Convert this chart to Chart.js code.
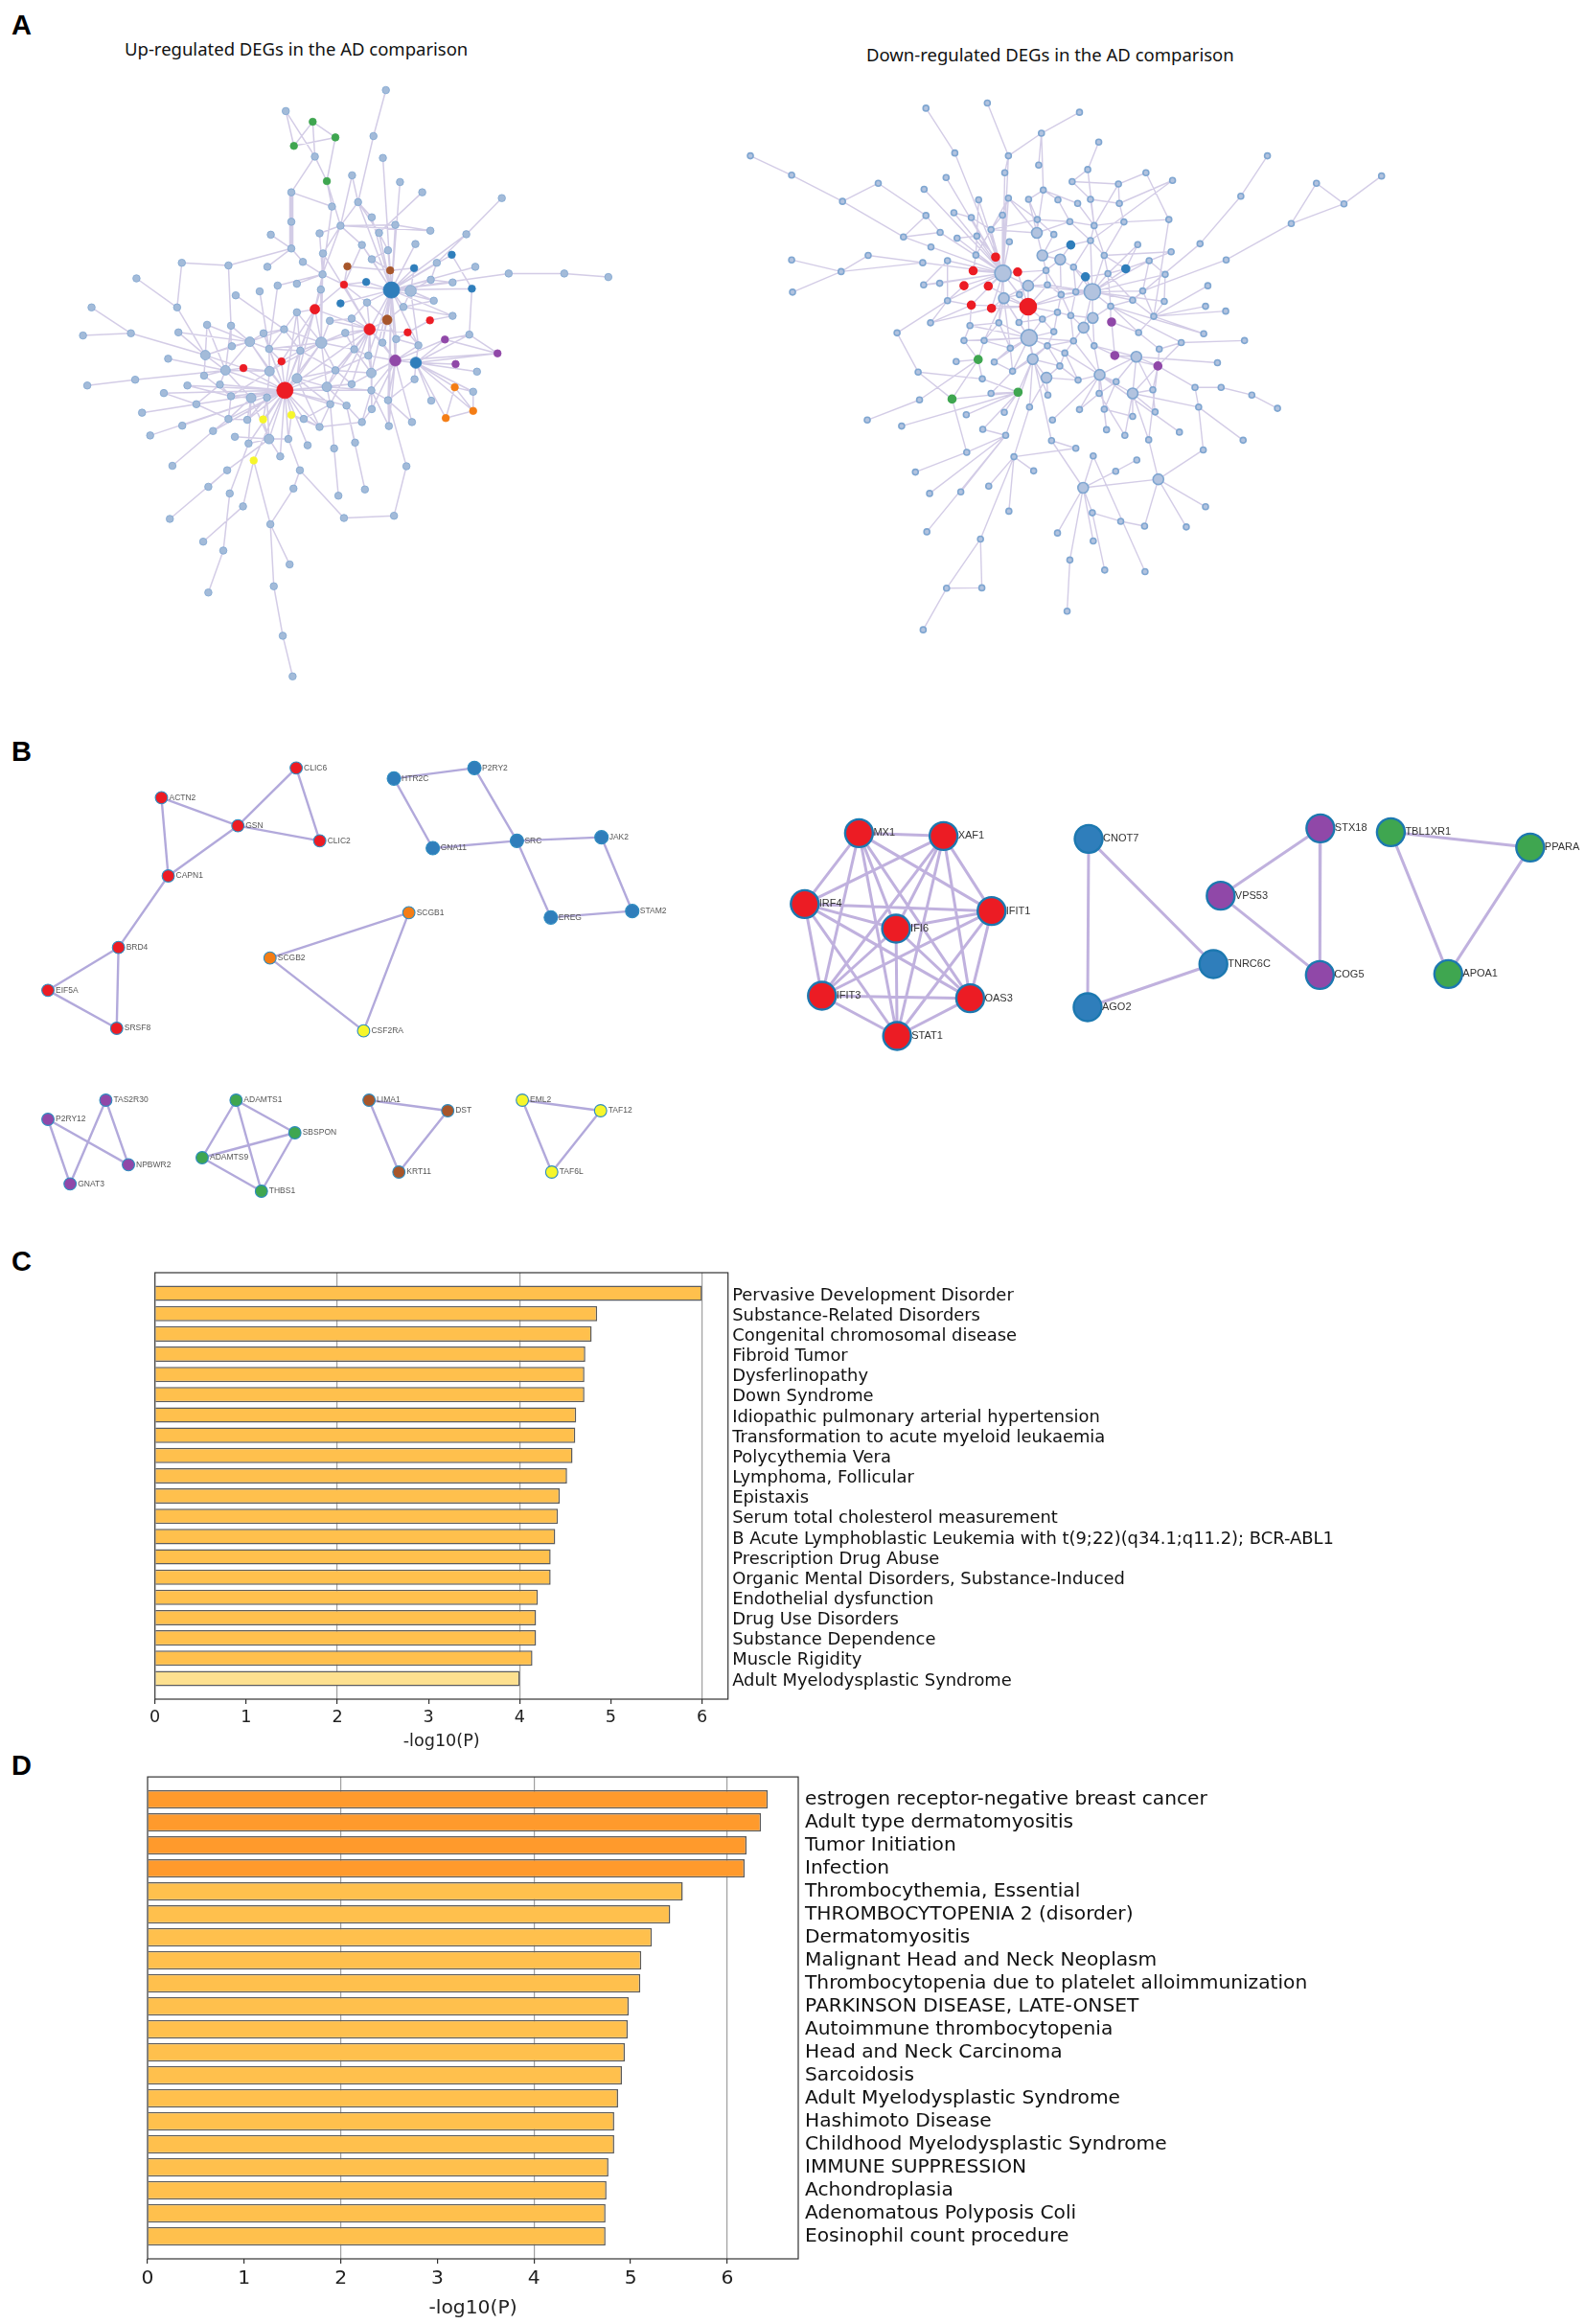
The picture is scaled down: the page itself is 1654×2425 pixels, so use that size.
<!DOCTYPE html>
<html>
<head>
<meta charset="utf-8">
<title>DEG networks and enrichment</title>
<script src="https://cdn.jsdelivr.net/npm/chart.js@4/dist/chart.umd.js"></script>
<style>
    html, body { margin: 0; background: #fff; }
    #page { position: relative; width: 1654px; height: 2425px; overflow: hidden; }
    #page canvas { position: absolute; }
    .panel { position: absolute; left: 12px; font: bold 29px "Liberation Sans", sans-serif; line-height: 1; color: #000; }
    .net-title { position: absolute; font: 18.5px "Noto Sans", sans-serif; line-height: 1; color: #111; white-space: nowrap; }
</style>
</head>
<body>
<div id="page">
    <div class="panel" style="top:12px">A</div>
    <div class="panel" style="top:770px">B</div>
    <div class="panel" style="top:1302px">C</div>
    <div class="panel" style="top:1828px">D</div>
    <div class="net-title" style="left:130px;top:42px">Up-regulated DEGs in the AD comparison</div>
    <div class="net-title" style="left:904px;top:48px">Down-regulated DEGs in the AD comparison</div>
    <canvas id="netUp" width="700" height="730" style="left:0;top:0"></canvas>
    <canvas id="netDown" width="750" height="660" style="left:740px;top:30px"></canvas>
    <canvas id="netLeft" width="740" height="510" style="left:0;top:760px"></canvas>
    <canvas id="netRight" width="854" height="300" style="left:800px;top:820px"></canvas>
    <canvas id="barsC" width="1400" height="525" style="left:100px;top:1310px"></canvas>
    <canvas id="barsD" width="1400" height="590" style="left:100px;top:1835px"></canvas>
</div>
<script>
(function () {
    'use strict';

    // panel C
    var cCategories = ['Pervasive Development Disorder', 'Substance-Related Disorders', 'Congenital chromosomal disease',
        'Fibroid Tumor', 'Dysferlinopathy', 'Down Syndrome', 'Idiopathic pulmonary arterial hypertension',
        'Transformation to acute myeloid leukaemia', 'Polycythemia Vera', 'Lymphoma, Follicular', 'Epistaxis',
        'Serum total cholesterol measurement', 'B Acute Lymphoblastic Leukemia with t(9;22)(q34.1;q11.2); BCR-ABL1',
        'Prescription Drug Abuse', 'Organic Mental Disorders, Substance-Induced', 'Endothelial dysfunction',
        'Drug Use Disorders', 'Substance Dependence', 'Muscle Rigidity', 'Adult Myelodysplastic Syndrome'];
    var cValues = [6.0, 4.85, 4.79, 4.72, 4.71, 4.71, 4.62, 4.61, 4.58, 4.52, 4.44, 4.42, 4.39, 4.34, 4.34, 4.20, 4.18, 4.18, 4.14, 4.0];

    // panel D
    var dCategories = ['estrogen receptor-negative breast cancer', 'Adult type dermatomyositis', 'Tumor Initiation', 'Infection',
        'Thrombocythemia, Essential', 'THROMBOCYTOPENIA 2 (disorder)', 'Dermatomyositis', 'Malignant Head and Neck Neoplasm',
        'Thrombocytopenia due to platelet alloimmunization', 'PARKINSON DISEASE, LATE-ONSET', 'Autoimmune thrombocytopenia',
        'Head and Neck Carcinoma', 'Sarcoidosis', 'Adult Myelodysplastic Syndrome', 'Hashimoto Disease',
        'Childhood Myelodysplastic Syndrome', 'IMMUNE SUPPRESSION', 'Achondroplasia', 'Adenomatous Polyposis Coli',
        'Eosinophil count procedure'];
    var dValues = [6.42, 6.35, 6.20, 6.18, 5.54, 5.41, 5.22, 5.11, 5.10, 4.98, 4.97, 4.94, 4.91, 4.87, 4.83, 4.83, 4.77, 4.75, 4.74, 4.74];

    // panel A, left network: layout position of each gene
    var upNodes = [[902,202],[668,249],[731,273],[784,308],[687,327],[873,305],[736,351],[895,354],[764,406],[823,393],
        [935,408],[987,431],[681,431],[1173,444],[837,453],[776,463],[869,487],[681,497],[796,506],[924,504],
        [1006,517],[633,526],[747,523],[886,522],[1090,525],[681,557],[846,549],[971,547],[907,561],[755,568],
        [1056,571],[869,581],[425,589],[534,595],[708,587],[1021,589],[625,598],[812,597],[912,606],[968,601],
        [1111,598],[754,615],[1189,613],[1319,613],[1422,621],[319,624],[1007,627],[804,638],[856,632],[694,636],
        [649,640],[1058,633],[1103,647],[915,650],[960,652],[750,649],[607,653],[551,662],[1014,674],[796,680],
        [858,678],[736,693],[414,689],[214,689],[943,688],[694,700],[1058,708],[822,714],[771,719],[905,717],
        [1005,718],[484,728],[540,730],[864,738],[664,738],[417,745],[306,747],[194,752],[616,747],[807,746],
        [953,745],[1097,750],[751,768],[584,766],[894,768],[926,760],[1040,761],[978,774],[542,776],[629,782],
        [828,783],[702,786],[1163,792],[480,796],[393,804],[861,797],[658,810],[924,808],[972,813],[1065,816],
        [569,825],[527,830],[630,832],[784,830],[1115,833],[868,836],[477,842],[694,848],[969,850],[316,851],
        [204,864],[514,862],[438,864],[764,867],[822,861],[1063,868],[666,875],[868,875],[383,881],[1106,878],
        [540,888],[587,892],[624,891],[907,897],[1008,898],[459,906],[772,906],[810,909],[1106,921],[332,925],
        [869,917],[681,930],[710,939],[615,940],[578,941],[534,939],[1042,937],[846,946],[963,946],[426,954],
        [747,957],[909,955],[498,966],[351,976],[549,979],[674,984],[629,984],[830,992],[581,994],[719,998],
        [781,1005],[593,1032],[655,1023],[403,1044],[950,1045],[531,1054],[701,1054],[686,1095],[853,1097],[487,1091],
        [537,1106],[791,1111],[568,1135],[397,1163],[804,1161],[921,1156],[632,1175],[475,1214],[522,1234],[677,1265],
        [640,1314],[487,1328],[661,1425],[684,1516]];
    var upLinks = [[116,[121,122,102,107,96,100,83,89,91,101,111,120,125,135,134,133,131,132,146,145,148,113,126,103,114,117,127,140,118,112,139,142,129,143,152,149,82,61,73,78,65,151]],
        [53,[54,64,69,73,38,39,28,31,26,60,47,48,59,35,46,51,40,42,58,66,19,23,10,7,14,16,27,24,30,52,97,84,85,87,95,105,123,141]],
        [73,[82,61,47,69,80,84,95,90,67,79,60,29,68,97,105,114,113,103,126]],
        [97,[98,86,84,85,87,105,123,141,130,117,95,92,114]],
        [98,[99,115,119,128,136,124,108,92,86,104,87,81]],
        [136,[128,115]], [128,[115,119]], [115,[119]],
        [82,[41,55,61,65,68,91,107,79,90,103,113,102,89,74]],
        [61,[47,41,55,91,65,107,96]],
        [41,[29,22,34,15,18,49,50,55,47]],
        [1,[4,6]], [2,[3,4,6]], [3,[4,8]], [6,[8,12]], [12,[15]], [25,[33,34]], [33,[32,72]], [32,[62]],
        [62,[45,93]], [63,[76]], [76,[77,93]], [109,[110,101]], [94,[101]], [75,[93,83]],
        [8,[15,18]], [14,[5,16,9,18,23]], [5,[0]], [18,[9,20,29,22,19]], [19,[20]], [11,[23]],
        [13,[24]], [24,[35]], [42,[43]], [43,[44]], [52,[81,30]], [81,[86,92]], [86,[92]],
        [154,[123,165]], [165,[164]], [164,[156]], [156,[145,157]], [150,[161,126]], [127,[158,147]],
        [142,[153,135]], [155,[163,146,159]], [160,[168,148]], [162,[167,151]], [168,[171]],
        [166,[151,157,169,170]], [170,[172]], [172,[173]], [152,[146]], [144,[146]],
        [101,[83,93,102,100,106,111,72,71]], [83,[71,72,88,89,102,93,78,74]], [102,[96,100,120]], [93,[71,88,100]],
        [57,[74]], [50,[89]], [21,[25]], [36,[25]], [56,[89]], [103,[105,95]], [113,[114,117]], [137,[117]], [138,[97]],
        [47,[48,60,37]], [60,[67,69]], [67,[68,90]], [69,[84,85,64]], [85,[87,80,70]], [80,[70,87]],
        [105,[90,117,95,130]], [117,[123,130,141]], [123,[138,141,108]], [107,[91,103,113,126,140]],
        [113,[103,114,126,127]], [121,[101,120,134,135,148,146]], [122,[102,134,133,146]], [146,[133,145,148,144,152]],
        [135,[120,134,142,125]], [125,[111,118,129]], [120,[106,111,112]], [106,[101,93]], [88,[83,93,72]],
        [74,[78,89,91]], [65,[74,91]], [29,[55]], [26,[31,18,47]], [28,[31,38,23]], [38,[37,39,31]],
        [46,[35,51,54]], [54,[39,64,58,87]], [64,[58,66]], [70,[66]], [131,[132,140,145]], [132,[140,126]],
        [140,[137,126]], [137,[130,127]], [90,[79,95,103]], [103,[114,91]], [91,[96,89]], [89,[96,78,102]]];
    var upThickLinks = [[12,[17]], [17,[25]]];
    var upClusters = { red: [47,61,70,73,80,96,100,116], blue: [30,39,48,52,53,59,98], green: [2,3,4,8],
        purple: [86,92,97,99], orange: [115,128,136], yellow: [131,133,151], brown: [37,38,69] };
    var upHub = [53,116], upBig = [73,82,54,97,98], upMid = [61,83,93,101,102,105,107,113,121,146,69];

    // panel A, right network
    var downNodes = [[90,315],[180,363],[369,383],[291,428],[424,516],[473,197],[607,184],[808,207],[725,259],[850,281],
        [536,308],[653,315],[719,338],[826,349],[645,357],[517,369],[953,357],[1011,376],[792,379],[893,385],
        [469,398],[729,400],[588,424],[653,420],[697,423],[761,424],[804,433],[832,423],[895,433],[473,463],
        [534,456],[572,468],[640,462],[716,473],[1003,473],[787,478],[840,488],[905,479],[1218,315],[1160,415],
        [1467,365],[1325,383],[1385,434],[1270,483],[504,505],[541,519],[615,498],[584,514],[715,506],[752,510],
        [655,528],[789,536],[832,525],[1071,533],[484,541],[935,535],[1008,553],[347,562],[582,561],[625,566],
        [727,562],[862,562],[960,575],[180,573],[466,580],[520,575],[766,572],[1128,573],[288,602],[576,600],
        [641,606],[673,603],[735,599],[795,591],[909,595],[870,607],[995,609],[821,615],[468,635],[503,631],
        [556,637],[609,638],[696,637],[738,635],[1088,637],[182,653],[836,652],[946,650],[643,668],[677,659],
        [768,659],[800,652],[520,674],[924,673],[993,676],[696,689],[572,685],[616,693],[876,688],[1083,688],
        [1127,700],[760,703],[789,711],[837,717],[970,713],[878,727],[483,729],[632,729],[727,720],[676,728],
        [569,736],[817,741],[752,751],[937,753],[410,754],[1079,756],[698,766],[556,773],[600,773],[795,774],
        [1030,778],[1168,773],[738,786],[657,792],[840,786],[982,794],[776,804],[885,810],[932,813],[706,819],
        [587,820],[539,825],[622,826],[979,836],[1109,828],[765,836],[456,851],[662,849],[852,858],[596,868],
        [736,865],[805,871],[888,875],[1060,889],[1117,889],[968,895],[924,904],[1184,908],[530,918],[674,901],
        [615,904],[739,908],[851,904],[459,920],[1240,941],[699,938],[808,944],[862,943],[1068,938],[973,950],
        [644,951],[561,957],[924,961],[749,970],[345,970],[420,985],[867,994],[597,993],[1026,1000],[907,1008],
        [647,1008],[747,1021],[959,1019],[1165,1020],[800,1040],[562,1050],[1078,1044],[665,1061],[838,1059],[933,1069],
        [450,1099],[708,1096],[887,1097],[980,1117],[816,1138],[610,1134],[481,1152],[549,1148],[654,1196],[1083,1185],
        [836,1200],[898,1221],[950,1233],[1041,1235],[475,1247],[760,1250],[592,1265],[838,1270],[787,1317],[863,1342],
        [951,1346],[518,1387],[595,1386],[781,1444],[467,1490]];
    var downLinks = [[0,[1]], [1,[3]], [3,[2,4]], [4,[70,29]], [2,[29]], [5,[10]], [10,[70]], [6,[11]], [11,[70,14,8]], [14,[70]],
        [7,[8]], [8,[21,12]], [9,[13]], [13,[18,36]], [15,[70]],
        [70,[59,69,71,80,81,88,82,89,95,47,46,22,31,30,44,45,54,64,65,58,57,79,78,92,32,96,97,107,20,72,50,23]],
        [95,[81,71,96,97,82,88,89,116,86,101,108,109,83,90]],
        [116,[88,107,109,112,122,129,137,123,118,132,108,119,126,117,110]],
        [86,[75,77,91,73,61,52,93,87,98,103,111,74,82,62,76,94,90,83]],
        [48,[33,24,21,46,60,72,35,23]],
        [129,[122,135,137,149,155,140]],
        [138,[141,142,152,157,156,146,128,124,119,126,163]],
        [146,[145,158,133,159,162,128,169]],
        [133,[127,128,120,143,125]], [143,[144,158]], [144,[147]], [147,[154]],
        [158,[176]], [176,[183]], [183,[184,189,193,172,192]], [172,[133,146]],
        [184,[190,195,198,197,182,171,178]], [182,[179]], [190,[191,199]], [191,[192]], [198,[203]], [178,[200]], [171,[116,174]],
        [175,[180,170,148]], [167,[170]], [170,[187,186,194,129]], [177,[174,188,196,181,155]], [196,[201,202]], [201,[202,204]],
        [164,[153]], [153,[130]], [165,[149]], [114,[92,136]], [136,[139]], [139,[130,149]], [148,[149,130]],
        [67,[87]], [43,[67,41,42]], [41,[42]], [42,[40]], [38,[39]], [39,[53]], [53,[93]], [16,[19]], [19,[18,28,36]],
        [17,[28,52]], [34,[16,104]], [56,[61]], [84,[104]], [99,[104]], [100,[104]], [115,[104,98]], [121,[120]], [120,[98]],
        [134,[128]], [55,[75]], [113,[105]], [105,[98,127]], [127,[128]],
        [60,[66,72,49]], [66,[90,73]], [137,[150,123]], [150,[149]], [151,[129]], [160,[149]], [161,[149]], [167,[149]],
        [185,[177]], [173,[158]], [168,[138]], [166,[138]], [148,[136]], [131,[130]], [117,[130]], [106,[92]], [65,[92]],
        [112,[122,101]], [124,[111]], [102,[111,101]], [26,[36]], [25,[35]], [27,[36]], [37,[61,36]], [51,[60,66]], [34,[37]],
        [88,[97,107,109,118,123,82,89]], [82,[89,83,72]], [83,[72,90]], [72,[90,66]], [73,[91,77,52]], [77,[75,91]],
        [91,[90,102]], [90,[101,102]], [101,[108,112]], [108,[109,112]], [102,[103,119]], [103,[98,111,124]],
        [111,[119]], [119,[126,122]], [126,[135,122,141]], [122,[135,137]], [135,[140,141]], [140,[151,155,141]],
        [137,[132]], [123,[118,132,107]], [107,[110,118]], [110,[117,96]], [118,[117,130]], [124,[127,128]],
        [128,[142,145]], [142,[152,157]], [152,[156,169]], [157,[162,166]], [145,[159,133]], [125,[120,113]],
        [113,[98,104]], [104,[94,87,93]], [93,[98,75,87]], [75,[98,74]], [74,[62,55]], [62,[56,76,87]], [76,[94]],
        [33,[35,46,49]], [35,[36,52]], [36,[52,61]], [52,[61,51]], [61,[75,74]], [24,[21,33]], [21,[25,26]],
        [23,[33,46]], [32,[46,23]], [22,[47]], [31,[30,46]], [46,[58,59]], [47,[58,59,45]], [58,[69]], [44,[4,29]],
        [65,[78]], [68,[63,85,64,57]], [64,[57]], [79,[78]], [92,[80,96]], [106,[96,97]], [37,[28]], [28,[27]], [27,[18]]];
    var downClusters = { red: [59,69,71,80,81,95,96,97], blue: [51,74,77], green: [130,148,149], purple: [105,127,133] };
    var downHub = [70,86,116,95], downMid = [48,60,66,82,88,103,111,128,129,138,140,146,183,184];

    // panel B, left group of modules
    var leftGenes = ['ACTN2','CLIC6','GSN','CLIC2','CAPN1','BRD4','EIF5A','SRSF8',
        'HTR2C','P2RY2','GNA11','SRC','JAK2','EREG','STAM2',
        'SCGB1','SCGB2','CSF2RA',
        'TAS2R30','P2RY12','NPBWR2','GNAT3',
        'ADAMTS1','SBSPON','ADAMTS9','THBS1',
        'LIMA1','DST','KRT11',
        'EML2','TAF12','TAF6L'];
    var leftNodes = [[357,217],[655,124],[526,305],[707,352],[372,462],[262,686],[106,820],[258,939],
        [871,157],[1049,124],[957,375],[1143,352],[1330,341],[1218,592],[1398,572],
        [904,577],[597,719],[804,947],
        [234,1164],[106,1224],[284,1366],[155,1426],
        [522,1164],[652,1266],[447,1344],[578,1449],
        [816,1164],[990,1197],[882,1389],
        [1155,1164],[1328,1197],[1220,1389]];
    var leftLinks = [[0,[2,4]], [2,[1,3,4]], [1,[3]], [4,[5]], [5,[6,7]], [6,[7]],
        [8,[9,10]], [9,[11]], [10,[11]], [11,[12,13]], [12,[14]], [13,[14]],
        [15,[16,17]], [16,[17]],
        [19,[20,21]], [18,[20,21]],
        [22,[23,24,25]], [23,[24,25]], [24,[25]],
        [26,[27,28]], [27,[28]], [29,[30,31]], [30,[31]]];
    var leftClusters = { red: [0,1,2,3,4,5,6,7], blue: [8,9,10,11,12,13,14], orange: [15,16], yellow: [17,29,30,31],
        purple: [18,19,20,21], green: [22,23,24,25], brown: [26,27,28] };

    // panel B, right group of modules
    var rightGenes = ['MX1','XAF1','IRF4','IFIT1','IFI6','IFIT3','OAS3','STAT1',
        'CNOT7','AGO2','TNRC6C','STX18','VPS53','COG5','TBL1XR1','PPARA','APOA1'];
    var rightNodes = [[177,148],[339,157],[73,370],[431,392],[248,447],[106,657],[390,665],[250,783],
        [617,166],[615,693],[856,558],[1061,133],[870,344],[1060,592],[1196,145],[1463,193],[1306,589]];
    var rightLinks = [[0,[1,2,3,4,5,6,7]], [1,[2,3,4,5,6,7]], [2,[3,4,5,6,7]], [3,[4,5,6,7]], [4,[5,6,7]], [5,[6,7]], [6,[7]],
        [8,[9,10]], [9,[10]], [11,[12,13]], [12,[13]], [14,[15,16]], [15,[16]]];
    var rightClusters = { red: [0,1,2,3,4,5,6,7], blue: [8,9,10], purple: [11,12,13], green: [14,15,16] };

    var clusterColors = { red: '#ec1c24', blue: '#2f7ebb', green: '#3fa650', purple: '#9048a8',
        orange: '#f47d15', yellow: '#f6f62b', brown: '#a7562a' };

    function linkPoints(nodes, links) {
        var pts = [];
        links.forEach(function (l) {
            l[1].forEach(function (b) {
                pts.push({ x: nodes[l[0]][0], y: nodes[l[0]][1] });
                pts.push({ x: nodes[b][0], y: nodes[b][1] });
                pts.push({ x: NaN, y: NaN });
            });
        });
        return pts;
    }

    function colorOf(clusters, i, fallback) {
        for (var k in clusters) {
            if (clusters[k].indexOf(i) >= 0) return clusterColors[k];
        }
        return fallback;
    }

    var geneLabels = {
        id: 'geneLabels',
        afterDatasetsDraw: function (chart, args, opts) {
            if (!opts.genes) return;
            var c = chart.ctx;
            c.save();
            c.font = opts.font;
            c.fillStyle = opts.color;
            c.textBaseline = 'middle';
            opts.genes.forEach(function (g, i) {
                var n = opts.nodes[i];
                c.fillText(g, chart.scales.x.getPixelForValue(n[0]) + opts.gap, chart.scales.y.getPixelForValue(n[1]));
            });
            c.restore();
        }
    };

    function drawNetwork(id, o) {
        var links = [{
            data: linkPoints(o.nodes, o.links),
            showLine: true, spanGaps: false, tension: 0, pointRadius: 0,
            borderColor: o.linkColor, borderWidth: o.linkWidth, order: 3
        }];
        if (o.thick) {
            links.push({
                data: linkPoints(o.nodes, o.thick),
                showLine: true, spanGaps: false, tension: 0, pointRadius: 0,
                borderColor: o.linkColor, borderWidth: o.linkWidth * 3, order: 3
            });
        }
        var nodeSet = {
            data: o.nodes.map(function (n) { return { x: n[0], y: n[1] }; }),
            order: 1,
            pointRadius: o.nodes.map(o.radius),
            pointBackgroundColor: o.nodes.map(function (n, i) { return colorOf(o.clusters, i, o.fill); }),
            pointBorderColor: o.nodes.map(function (n, i) { return o.edgeOf(colorOf(o.clusters, i, null)); }),
            pointBorderWidth: o.stroke
        };
        new Chart(document.getElementById(id), {
            type: 'scatter',
            data: { datasets: [nodeSet].concat(links) },
            plugins: [geneLabels],
            options: {
                responsive: false,
                animation: false,
                events: [],
                layout: { padding: 0, autoPadding: false },
                scales: {
                    x: { type: 'linear', display: false, min: 0, max: o.w },
                    y: { type: 'linear', display: false, min: 0, max: o.h, reverse: true }
                },
                plugins: {
                    legend: { display: false },
                    tooltip: { enabled: false },
                    geneLabels: o.labels || {}
                }
            }
        });
    }

    drawNetwork('netUp', {
        w: 1568, h: 1568, nodes: upNodes, links: upLinks, thick: upThickLinks, clusters: upClusters,
        linkColor: 'rgba(140,120,190,0.38)', linkWidth: 1.5, fill: '#a3bbd9', stroke: 0.8,
        radius: function (n, i) {
            if (upHub.indexOf(i) >= 0) return 8.5;
            if (upBig.indexOf(i) >= 0) return 5.8;
            if (upMid.indexOf(i) >= 0) return 5;
            return 3.8;
        },
        edgeOf: function (c) { return c || '#7fa6d1'; }
    });

    drawNetwork('netDown', {
        w: 1568, h: 1568, nodes: downNodes, links: downLinks, clusters: downClusters,
        linkColor: 'rgba(140,120,190,0.38)', linkWidth: 1.4, fill: '#b2c3df', stroke: 1.6,
        radius: function (n, i) {
            if (downHub.indexOf(i) >= 0) return 8.5;
            if (colorOf(downClusters, i, null)) return 4;
            if (downMid.indexOf(i) >= 0) return 5.5;
            return 3;
        },
        edgeOf: function (c) { return c || '#7fa6d1'; }
    });

    drawNetwork('netLeft', {
        w: 1568, h: 1530, nodes: leftNodes, links: leftLinks, clusters: leftClusters,
        linkColor: 'rgba(170,160,215,0.9)', linkWidth: 2.4, fill: '#2f7ebb', stroke: 1.1,
        radius: function (n, i) { return leftClusters.blue.indexOf(i) >= 0 ? 7 : 6.4; },
        edgeOf: function () { return '#2f8cc0'; },
        labels: { genes: leftGenes, nodes: leftNodes, font: '8.5px "Liberation Sans"', color: '#555', gap: 8 }
    });

    drawNetwork('netRight', {
        w: 1568, h: 900, nodes: rightNodes, links: rightLinks, clusters: rightClusters,
        linkColor: 'rgba(130,100,190,0.5)', linkWidth: 3, fill: '#2f7ebb', stroke: 2.4,
        radius: function () { return 14.5; },
        edgeOf: function () { return '#1c78b0'; },
        labels: { genes: rightGenes, nodes: rightNodes, font: '11px "Liberation Sans"', color: '#333', gap: 15 }
    });

    var plotFrame = {
        id: 'plotFrame',
        afterDatasetsDraw: function (chart) {
            var a = chart.chartArea, c = chart.ctx;
            c.save();
            c.strokeStyle = '#333';
            c.lineWidth = 1.2;
            c.strokeRect(a.left, a.top, a.right - a.left, a.bottom - a.top);
            c.restore();
        }
    };

    function barColor(v) {
        if (v <= 4) return '#fde08f';
        if (v > 6.1) return '#ff9a2c';
        return '#ffc04d';
    }

    function drawBars(id, o) {
        new Chart(document.getElementById(id), {
            type: 'bar',
            data: {
                datasets: [{
                    data: o.values.map(function (v, i) { return { x: v, y: i }; }),
                    backgroundColor: o.values.map(barColor),
                    borderColor: '#5c5c5c',
                    borderWidth: 1.5,
                    barPercentage: o.bar,
                    categoryPercentage: 1
                }]
            },
            plugins: [plotFrame],
            options: {
                indexAxis: 'y',
                responsive: false,
                animation: false,
                events: [],
                layout: { padding: { left: o.left, top: o.top, right: 0, bottom: 0 } },
                scales: {
                    x: {
                        type: 'linear', min: 0, max: o.xMax,
                        afterFit: function (s) { s.height = o.bottomGap; },
                        grid: {
                            color: function (ctx) {
                                return ctx.tick && ctx.tick.value % 2 === 0 && ctx.tick.value > 0 ? '#a0a0a0' : 'rgba(0,0,0,0)';
                            },
                            tickColor: '#333', tickLength: 5, lineWidth: 1.2
                        },
                        border: { display: false },
                        ticks: {
                            stepSize: 1, includeBounds: false, maxRotation: 0, padding: 4,
                            color: '#222', font: { family: 'DejaVu Sans', size: o.font }
                        },
                        title: {
                            display: true, text: '-log10(P)', color: '#222',
                            font: { family: 'DejaVu Sans', size: o.font }, padding: { top: 4, bottom: o.titleGap }
                        }
                    },
                    y: {
                        type: 'linear', position: 'right', reverse: true, offset: false, min: o.yMin, max: o.yMax,
                        afterFit: function (s) { s.width = o.rightGap; },
                        afterBuildTicks: function (s) {
                            s.ticks = o.categories.map(function (c, i) { return { value: i }; });
                        },
                        grid: { display: false, drawTicks: false, offset: false },
                        border: { display: false },
                        ticks: {
                            autoSkip: false, padding: o.labelGap, color: '#111', crossAlign: 'near', labelOffset: o.labelShift,
                            font: { family: 'DejaVu Sans', size: o.labelFont },
                            callback: function (v) { return o.categories[v]; }
                        }
                    }
                },
                plugins: { legend: { display: false }, tooltip: { enabled: false } }
            }
        });
    }

    drawBars('barsC', {
        categories: cCategories, values: cValues, xMax: 6.285, yMin: -1.02, yMax: 20.02, bar: 0.76,
        left: 61.7, top: 18, bottomGap: 62, rightGap: 740.3, font: 17.6, labelFont: 17.9, labelGap: 4.5, labelShift: 2.5, titleGap: 7
    });
    drawBars('barsD', {
        categories: dCategories, values: dValues, xMax: 6.735, yMin: -0.98, yMax: 19.98, bar: 0.81,
        left: 54, top: 16.8, bottomGap: 68, rightGap: 667, font: 20.3, labelFont: 20.2, labelGap: 7, labelShift: 0, titleGap: 4
    });
}());
</script>
</body>
</html>
